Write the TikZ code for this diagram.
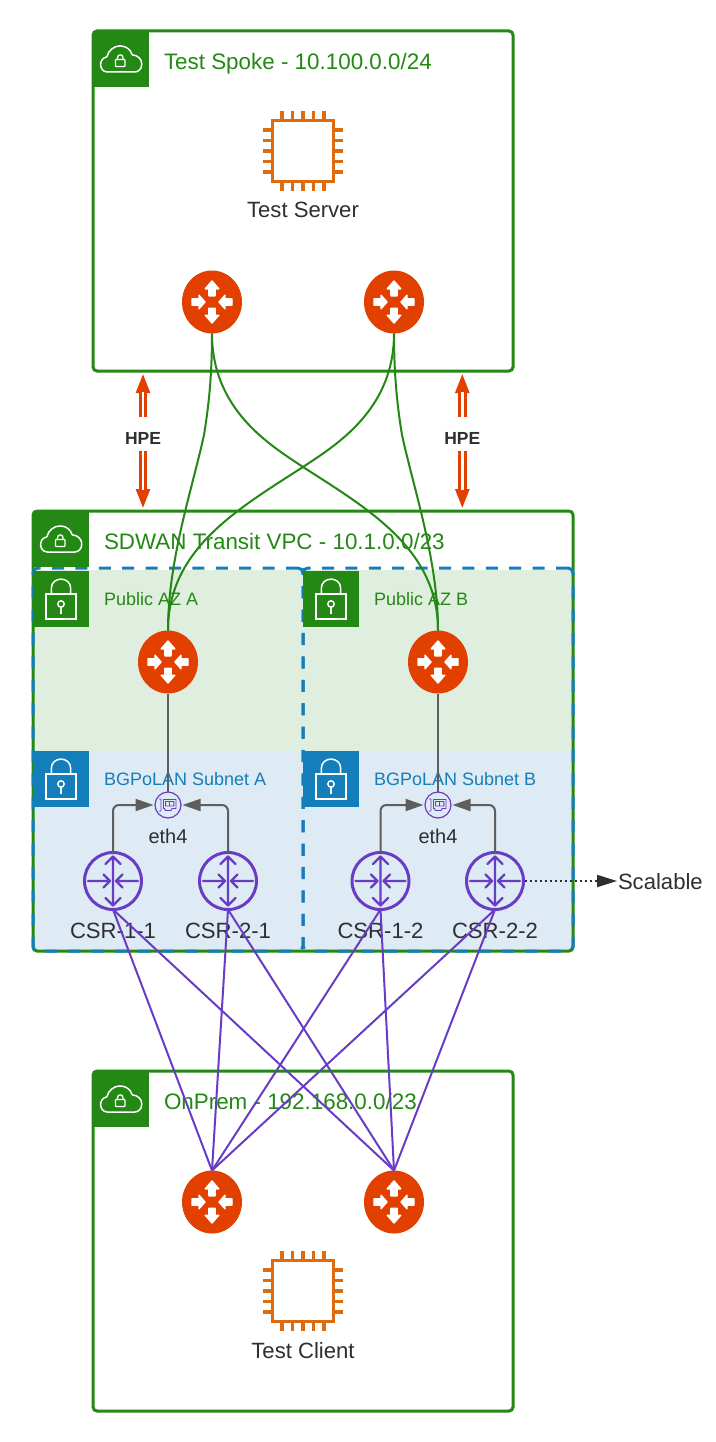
\documentclass[tikz,border=0pt]{standalone}
\usepackage{fontspec}
\setmainfont{Liberation Sans}
\usetikzlibrary{shapes.geometric,arrows.meta}
\definecolor{awsgreen}{HTML}{248814}
\definecolor{awsblue}{HTML}{147EBA}
\definecolor{gworange}{HTML}{E24000}
\definecolor{chiporange}{HTML}{DD6B10}
\definecolor{csrpurple}{HTML}{693CC5}
\definecolor{pubfill}{HTML}{E0EEDF}
\definecolor{subfill}{HTML}{DEEBF4}
\definecolor{ink}{HTML}{2E2E33}
\definecolor{linkgrey}{HTML}{5E5E5E}
\tikzset{
  every node/.style={inner sep=0pt,outer sep=0pt},
  vpcbox/.style={draw=awsgreen,line width=3pt,rounded corners=4pt,anchor=north west,rectangle},
  tag/.style={rectangle,anchor=north west,minimum width=56pt,minimum height=56pt},
  zonefill/.style={rectangle,anchor=north west,minimum width=270pt},
  azbox/.style={rectangle,draw=awsblue,line width=3pt,dash pattern=on 12pt off 11.4pt,rounded corners=5pt,anchor=north west,minimum width=270pt,minimum height=383pt},
  titletext/.style={anchor=base west,text=awsgreen,font=\fontsize{22.4}{26}\selectfont},
  zonetext/.style={anchor=base west,font=\fontsize{18}{22}\selectfont},
  lbl/.style={anchor=base,text=ink,font=\fontsize{22.1}{26}\selectfont},
  ethlbl/.style={anchor=base,text=ink,font=\fontsize{20}{24}\selectfont},
  hpelbl/.style={anchor=base,text=ink,font=\bfseries\fontsize{17.5}{20}\selectfont},
  gw/.style={ellipse,fill=gworange,minimum width=60pt,minimum height=63pt},
  csr/.style={circle,draw=csrpurple,line width=3pt,minimum size=57pt},
  eni/.style={circle,draw=csrpurple,line width=1.2pt,fill=subfill,minimum size=26pt},
  chip/.style={rectangle,draw=chiporange,line width=3.2pt,minimum size=61pt},
  gline/.style={draw=awsgreen,line width=2pt},
  pline/.style={draw=csrpurple,line width=2pt},
  eline/.style={draw=linkgrey,line width=2pt,rounded corners=6pt,-{Triangle[length=18pt,width=12pt]},shorten >=1.5pt},
  uline/.style={draw=linkgrey,line width=2pt},
  hpeout/.style={draw=gworange,line width=8.6pt,-{Triangle[length=20pt,width=13pt]}},
  hpecore/.style={draw=white,line width=2.4pt},
  gwglyph/.pic={
    \foreach \r in {0,180}{
      \begin{scope}[rotate=\r]
      \filldraw[white,line width=1.4pt,line join=round] (0,-21) -- (6.8,-13.2) -- (3.2,-13.2) -- (3.2,-6.2) -- (-3.2,-6.2) -- (-3.2,-13.2) -- (-6.8,-13.2) -- cycle;
      \filldraw[white,line width=1.4pt,line join=round] (-7,0) -- (-13,6.8) -- (-13,3.2) -- (-20,3.2) -- (-20,-3.2) -- (-13,-3.2) -- (-13,-6.8) -- cycle;
      \end{scope}
    }
  },
  csrglyph/.pic={
    \draw[csrpurple,line width=2.3pt,line cap=round,line join=round]
      (0,-24.5) -- (0,24.5)
      (-7.5,-17) -- (0,-24.5) -- (7.5,-17)
      (-7.5,17) -- (0,24.5) -- (7.5,17)
      (-25,0) -- (-3,0) (-9.5,-6.5) -- (-3,0) -- (-9.5,6.5)
      (25,0) -- (3,0) (9.5,-6.5) -- (3,0) -- (9.5,6.5);
  },
  eniglyph/.pic={
    \draw[csrpurple,line width=.9pt,line join=round]
      (-9,-6) -- (-7,-6) -- (-7,6) -- (-9,6)
      (-4.5,-5.5) -- (8,-5.5) -- (8,3.5) -- (4,3.5) -- (3,5.5) -- (-2.5,5.5) -- (-3.5,3.5) -- (-4.5,3.5) -- cycle
      (-2.5,-3.5) rectangle (1.5,1) (1.5,-3.5) rectangle (5.8,1);
  },
  chippins/.pic={
    \foreach \p in {-21,-10.5,0,10.5,21}{
      \draw[chiporange,line width=3.6pt]
        (\p,-40) -- (\p,-32) (\p,32) -- (\p,40)
        (-40,\p) -- (-32,\p) (32,\p) -- (40,\p);
    }
  },
  cloudglyph/.pic={
    \draw[white,line width=1.5pt,rounded corners=.8pt]
      (15,41) .. controls (10,41) and (7.7,37) .. (7.7,33.5)
      .. controls (7.7,29.5) and (10.5,26.5) .. (14,26)
      .. controls (15,20) and (21,15) .. (27,15)
      .. controls (33,15) and (38,19) .. (39,24)
      .. controls (44,24) and (48.7,28) .. (48.7,33)
      .. controls (48.7,38) and (45,41) .. (41,41) -- cycle;
    \draw[white,line width=1.3pt,rounded corners=.8pt] (22.5,28.5) rectangle (32,35.5);
    \draw[white,line width=1.3pt] (24.5,28.5) -- (24.5,26.5) .. controls (24.5,23) and (30,23) .. (30,26.5) -- (30,28.5);
  },
  lockglyph/.pic={
    \draw[white,line width=1.5pt] (13,23) rectangle (43,48);
    \draw[white,line width=1.5pt] (18.3,23) -- (18.3,17.5) .. controls (18.3,5) and (37.7,5) .. (37.7,17.5) -- (37.7,23);
    \draw[white,line width=1.5pt] (28,33) circle[radius=3.2pt];
    \draw[white,line width=1.5pt] (28,36.2) -- (28,43);
  }
}
\begin{document}
\begin{tikzpicture}[x=1pt,y=-1pt]
\fill[white] (0,0) rectangle (715,1442);
\useasboundingbox (0,0) rectangle (715,1442);

% containers
\node[vpcbox,minimum width=420pt,minimum height=340pt] (spoke) at (93,31) {};
\node[zonefill,fill=pubfill,minimum height=181pt] (pubA) at (33,570) {};
\node[zonefill,fill=pubfill,minimum height=181pt] (pubB) at (303,570) {};
\node[zonefill,fill=subfill,minimum height=200pt] (subA) at (33,751) {};
\node[zonefill,fill=subfill,minimum height=200pt] (subB) at (303,751) {};
\node[vpcbox,minimum width=540pt,minimum height=440pt] (transit) at (33,511) {};
\node[azbox] (azA) at (33,568) {};
\node[azbox] (azB) at (303,568) {};
\node[vpcbox,minimum width=420pt,minimum height=340pt] (onprem) at (93,1071) {};

% header tags
\node[tag,fill=awsgreen] (tagS) at (93,31) {};
\node[tag,fill=awsgreen] (tagT) at (33,511) {};
\node[tag,fill=awsgreen] (tagO) at (93,1071) {};
\node[tag,fill=awsgreen] (tagPA) at (33,571) {};
\node[tag,fill=awsgreen] (tagPB) at (303,571) {};
\node[tag,fill=awsblue] (tagSA) at (33,751) {};
\node[tag,fill=awsblue] (tagSB) at (303,751) {};
\pic at (tagS.north west) {cloudglyph};
\pic at (tagT.north west) {cloudglyph};
\pic at (tagO.north west) {cloudglyph};
\pic at (tagPA.north west) {lockglyph};
\pic at (tagPB.north west) {lockglyph};
\pic at (tagSA.north west) {lockglyph};
\pic at (tagSB.north west) {lockglyph};

% texts
\node[titletext] (tS) at (164,69.5) {Test Spoke - 10.100.0.0/24};
\node[titletext] (tT) at (104,549.5) {SDWAN Transit VPC - 10.1.0.0/23};
\node[titletext] (tO) at (164,1109.5) {OnPrem - 192.168.0.0/23};
\node[zonetext,text=awsgreen] (tPA) at (104,605.5) {Public AZ A};
\node[zonetext,text=awsgreen] (tPB) at (374,605.5) {Public AZ B};
\node[zonetext,text=awsblue] (tSA) at (104,785.5) {BGPoLAN Subnet A};
\node[zonetext,text=awsblue] (tSB) at (374,785.5) {BGPoLAN Subnet B};
\node[lbl] (tsrv) at (303,218) {Test Server};
\node[lbl] (tcli) at (303,1358) {Test Client};
\node[ethlbl] (e1) at (168,843) {eth4};
\node[ethlbl] (e2) at (438,843) {eth4};
\node[lbl] (c11) at (113,938) {CSR-1-1};
\node[lbl] (c21) at (228,938) {CSR-2-1};
\node[lbl] (c12) at (380.5,938) {CSR-1-2};
\node[lbl] (c22) at (495,938) {CSR-2-2};
\node[anchor=base west,text=ink,font=\fontsize{22.1}{26}\selectfont] (scal) at (618,889) {Scalable};

% chips
\node[chip] (srv) at (303,151) {};
\pic at (srv) {chippins};
\node[chip] (cli) at (303,1291) {};
\pic at (cli) {chippins};

% gateways
\node[gw] (gS1) at (212,302) {};
\node[gw] (gS2) at (394,302) {};
\node[gw] (gTA) at (168,662) {};
\node[gw] (gTB) at (438,662) {};
\node[gw] (gO1) at (212,1202) {};
\node[gw] (gO2) at (394,1202) {};
\foreach \g in {gS1,gS2,gTA,gTB,gO1,gO2}{\pic at (\g) {gwglyph};}

% csr routers and eni
\node[csr] (csr11) at (113,881) {};
\node[csr] (csr21) at (228,881) {};
\node[csr] (csr12) at (380.5,881) {};
\node[csr] (csr22) at (495,881) {};
\foreach \g in {csr11,csr21,csr12,csr22}{\pic at (\g) {csrglyph};}

% HPE arrows
\node[minimum width=38pt,minimum height=34pt,anchor=center] (hpeA) at (143,434) {};
\node[hpelbl] (hpeAt) at (143,444.5) {HPE};
\node[minimum width=38pt,minimum height=34pt,anchor=center] (hpeB) at (462.3,434) {};
\node[hpelbl] (hpeBt) at (462.3,444.5) {HPE};
\coordinate (a1) at (143,373);\coordinate (a1c) at (143,392);
\coordinate (a2) at (143,509);\coordinate (a2c) at (143,490);
\coordinate (b1) at (462.3,373);\coordinate (b1c) at (462.3,392);
\coordinate (b2) at (462.3,509);\coordinate (b2c) at (462.3,490);
\draw[hpeout] (hpeA.north) -- (a1);
\draw[hpeout] (hpeA.south) -- (a2);
\draw[hpeout] (hpeB.north) -- (b1);
\draw[hpeout] (hpeB.south) -- (b2);
\draw[hpecore] (hpeA.north) -- (a1c);
\draw[hpecore] (hpeA.south) -- (a2c);
\draw[hpecore] (hpeB.north) -- (b1c);
\draw[hpecore] (hpeB.south) -- (b2c);

% green tunnels
\draw[gline] (gS1.south) .. controls (212,380) and (208,410) .. (204,435) .. controls (192,490) and (168,560) .. (gTA.north);
\draw[gline] (gS2.south) .. controls (394,380) and (398,410) .. (402,435) .. controls (414,490) and (438,560) .. (gTB.north);
\draw[gline] (gS1.south) .. controls (212,410) and (270,445) .. (303,467) .. controls (370,510) and (438,550) .. (gTB.north);
\draw[gline] (gS2.south) .. controls (394,410) and (336,445) .. (303,467) .. controls (236,510) and (168,550) .. (gTA.north);

% eni
\node[eni] (eniA) at (168,805) {};
\node[eni] (eniB) at (438,805) {};
\pic at (eniA) {eniglyph};
\pic at (eniB) {eniglyph};
\draw[uline] (gTA.south) -- (eniA.north);
\draw[uline] (gTB.south) -- (eniB.north);
\draw[eline] (csr11.north) |- (eniA.west);
\draw[eline] (csr21.north) |- (eniA.east);
\draw[eline] (csr12.north) |- (eniB.west);
\draw[eline] (csr22.north) |- (eniB.east);

% scalable
\draw[draw=ink,line width=2pt,dash pattern=on 2pt off 3pt,-{Triangle[length=20pt,width=12pt]},shorten >=1pt] (csr22.east) ++(1,0) coordinate (scalstart) -- (scal.west |- csr22);

% purple mesh
\foreach \c in {csr11,csr21,csr12,csr22}{
  \draw[pline] (\c.south) -- (gO1.north);
  \draw[pline] (\c.south) -- (gO2.north);
}
\end{tikzpicture}
\end{document}
